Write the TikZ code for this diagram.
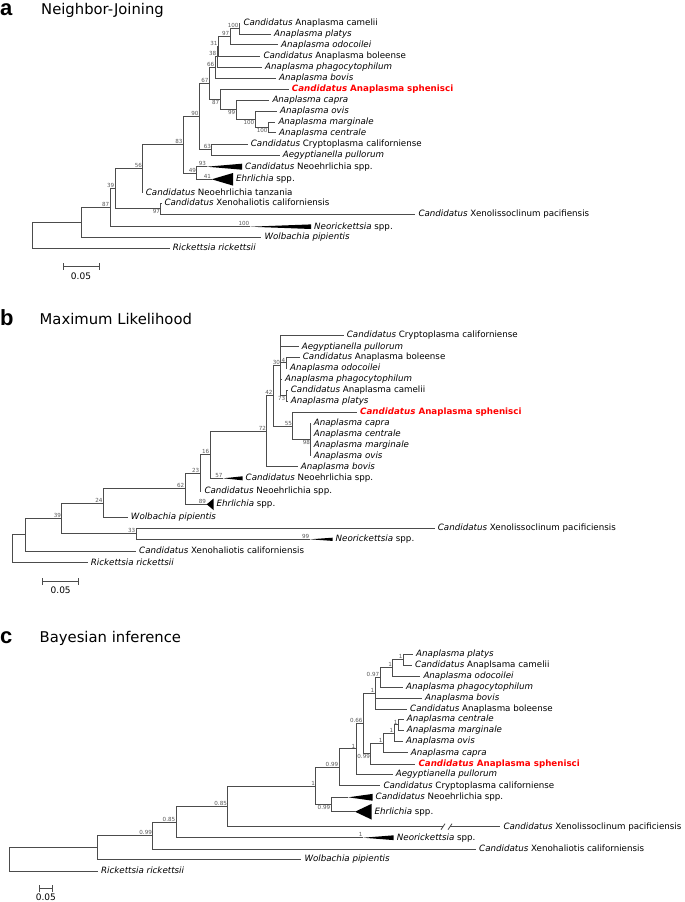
\documentclass[tikz,border=0pt]{standalone}
\usepackage{fontspec}
\setmainfont{DejaVu Sans}
\newfontfamily\letterfont{Liberation Sans}
\begin{document}
\begin{tikzpicture}[x=1pt, y=-1pt,
    br/.style={draw=black!70, line width=0.8pt},
    leaf/.style={anchor=west, inner xsep=3pt, inner ysep=0pt, text height=6.5pt, text depth=1.8pt, font=\fontsize{8.7}{10}\selectfont},
    hilite/.style={leaf, text=red, font=\fontsize{8.7}{10}\selectfont\bfseries},
    bs/.style={anchor=south east, inner sep=0.6pt, font=\fontsize{5.6}{6}\selectfont, text=black!65},
    bsb/.style={bs, anchor=north east},
    clade/.style={fill=black},
    plabel/.style={anchor=base west, inner sep=0pt, font=\letterfont\fontsize{22}{22}\selectfont\bfseries},
    ptitle/.style={anchor=base west, inner sep=0pt, font=\fontsize{14.8}{15}\selectfont},
    sbar/.style={draw=black!70, line width=0.8pt, |-|},
    sblab/.style={inner sep=0pt, font=\fontsize{9}{10}\selectfont}]
    \useasboundingbox (0,0) rectangle (685,902);

    % a: Neighbor-Joining
    \begin{scope}
        \node[plabel] (aLet) at (0,15.5) {a};
        \node[ptitle] (aTit) at (41,14.8) {Neighbor-Joining};

        \coordinate (aR) at (32.3,235.4);
        \coordinate (aN1) at (81.3,222.5);
        \coordinate (aN87) at (110,207.7);
        \coordinate (aN39) at (115,188.8);
        \coordinate (aN56) at (142.7,168.7);
        \coordinate (aNX97) at (160.7,208.8);
        \coordinate (aN83) at (183.3,144.7);
        \coordinate (aN49) at (196.7,173);
        \coordinate (aN90) at (199.3,116.5);
        \coordinate (aN63) at (211.7,149.5);
        \coordinate (aN67) at (209.3,83.4);
        \coordinate (aN66) at (215,67.5);
        \coordinate (aN87b) at (220,99.3);
        \coordinate (aN38) at (217,56.7);
        \coordinate (aN31) at (218.3,46.5);
        \coordinate (aN97) at (230,36.8);
        \coordinate (aN100) at (239.3,28.7);
        \coordinate (aN99) at (236,109.2);
        \coordinate (aN100b) at (255,119.2);
        \coordinate (aN100c) at (268.3,127.4);
        \coordinate (aNeoA) at (206.7,166.7);
        \coordinate (aEhrA) at (211.7,179.3);
        \coordinate (aNriA) at (250,226.7);

        \node[leaf] (aCam) at (240.3,23.3) {\textit{Candidatus} Anaplasma camelii};
        \node[leaf] (aPla) at (271,34) {\textit{Anaplasma platys}};
        \node[leaf] (aOdo) at (278,44.7) {\textit{Anaplasma odocoilei}};
        \node[leaf] (aBol) at (260.3,56) {\textit{Candidatus} Anaplasma boleense};
        \node[leaf] (aPha) at (262,67) {\textit{Anaplasma phagocytophilum}};
        \node[leaf] (aBov) at (276,78.3) {\textit{Anaplasma bovis}};
        \node[hilite] (aSph) at (288.7,89.3) {\textit{Candidatus} Anaplasma sphenisci};
        \node[leaf] (aCap) at (269.3,100) {\textit{Anaplasma capra}};
        \node[leaf] (aOvi) at (277,111) {\textit{Anaplasma ovis}};
        \node[leaf] (aMar) at (275.3,122) {\textit{Anaplasma marginale}};
        \node[leaf] (aCen) at (276,132.7) {\textit{Anaplasma centrale}};
        \node[leaf] (aCry) at (247.7,144) {\textit{Candidatus} Cryptoplasma californiense};
        \node[leaf] (aAeg) at (279.7,155) {\textit{Aegyptianella pullorum}};
        \node[leaf] (aNeo) at (242,166.7) {\textit{Candidatus} Neoehrlichia spp.};
        \node[leaf] (aEhr) at (233,179.3) {\textit{Ehrlichia} spp.};
        \node[leaf] (aTan) at (142.7,192.7) {\textit{Candidatus} Neoehrlichia tanzania};
        \node[leaf] (aXha) at (161.3,203.3) {\textit{Candidatus} Xenohaliotis californiensis};
        \node[leaf] (aXli) at (415.3,214.3) {\textit{Candidatus} Xenolissoclinum pacifiensis};
        \node[leaf] (aNri) at (311,226.7) {\textit{Neorickettsia} spp.};
        \node[leaf] (aWol) at (261.3,237.3) {\textit{Wolbachia pipientis}};
        \node[leaf] (aRic) at (169.7,248.3) {\textit{Rickettsia rickettsii}};

        \draw[br] (aR) |- (aN1) (aR) |- (aRic.west)
            (aN1) |- (aN87) (aN1) |- (aWol.west)
            (aN87) |- (aN39) (aN87) |- (aNriA)
            (aN39) |- (aN56) (aN39) |- (aNX97)
            (aNX97) |- (aXha.west) (aNX97) |- (aXli.west)
            (aN56) |- (aN83) (aN56) |- (aTan.west)
            (aN83) |- (aN90) (aN83) |- (aN49)
            (aN49) |- (aNeoA) (aN49) |- (aEhrA)
            (aN90) |- (aN67) (aN90) |- (aN63)
            (aN63) |- (aCry.west) (aN63) |- (aAeg.west)
            (aN67) |- (aN66) (aN67) |- (aN87b)
            (aN66) |- (aN38) (aN66) |- (aBov.west)
            (aN38) |- (aN31) (aN38) |- (aPha.west)
            (aN31) |- (aN97) (aN31) |- (aBol.west)
            (aN97) |- (aN100) (aN97) |- (aOdo.west)
            (aN100) |- (aCam.west) (aN100) |- (aPla.west)
            (aN87b) |- (aSph.west) (aN87b) |- (aN99)
            (aN99) |- (aCap.west) (aN99) |- (aN100b)
            (aN100b) |- (aOvi.west) (aN100b) |- (aN100c)
            (aN100c) |- (aMar.west) (aN100c) |- (aCen.west);
        \fill[clade] (aNeoA) -- ([yshift=3pt]aNeo.west) -- ([yshift=-3pt]aNeo.west) -- cycle;
        \fill[clade] (aEhrA) -- ([yshift=6.3pt]aEhr.west) -- ([yshift=-6.3pt]aEhr.west) -- cycle;
        \fill[clade] (aNriA) -- ([yshift=2.3pt]aNri.west) -- ([yshift=-2.3pt]aNri.west) -- cycle;

        \node[bs] (aB100) at (aN100) {100};
        \node[bs] (aB97) at (aN97) {97};
        \node[bs] (aB31) at (aN31) {31};
        \node[bs] (aB38) at (aN38) {38};
        \node[bs] (aB66) at (aN66) {66};
        \node[bs] (aB67) at (aN67) {67};
        \node[bsb] (aB87b) at (aN87b) {87};
        \node[bsb] (aB99) at (aN99) {99};
        \node[bsb] (aB100b) at (aN100b) {100};
        \node[bsb] (aB100c) at (aN100c) {100};
        \node[bs] (aB90) at (aN90) {90};
        \node[bs] (aB63) at (aN63) {63};
        \node[bs] (aB83) at (aN83) {83};
        \node[bs] (aB49) at (aN49) {49};
        \node[bs] (aB93) at (aNeoA) {93};
        \node[bs] (aB41) at (aEhrA) {41};
        \node[bs] (aB56) at (aN56) {56};
        \node[bs] (aB39) at (aN39) {39};
        \node[bsb] (aBX97) at (aNX97) {97};
        \node[bs] (aB87) at (aN87) {87};
        \node[bs] (aB100n) at (aNriA) {100};

        \coordinate (aS1) at (62.7,266.7);
        \coordinate (aS2) at (99.3,266.7);
        \draw[sbar] (aS1) -- (aS2);
        \node[sblab] (aSL) at (81,276) {0.05};
    \end{scope}

    % b: Maximum Likelihood
    \begin{scope}
        \node[plabel] (bLet) at (0,325) {b};
        \node[ptitle] (bTit) at (39.5,324) {Maximum Likelihood};

        \coordinate (bR) at (12.3,548.7);
        \coordinate (bN1) at (25.7,534.7);
        \coordinate (bN39) at (61.7,518.4);
        \coordinate (bN24) at (103.3,502.9);
        \coordinate (bN33) at (136,533.8);
        \coordinate (bN62) at (185,488.6);
        \coordinate (bN23) at (200,472.9);
        \coordinate (bN16) at (210,454.7);
        \coordinate (bN72) at (266.7,431.2);
        \coordinate (bN42) at (273.3,395.6);
        \coordinate (bN30) at (280.7,365.25);
        \coordinate (bN4) at (286,362.8);
        \coordinate (bN73) at (286,395.5);
        \coordinate (bN55) at (292.7,426);
        \coordinate (bN98) at (310.7,439.65);
        \coordinate (bNeoA) at (223.3,478.3);
        \coordinate (bEhrA) at (206.7,504.3);
        \coordinate (bNriA) at (310,539.3);

        \node[leaf] (bCry) at (343.7,335) {\textit{Candidatus} Cryptoplasma californiense};
        \node[leaf] (bAeg) at (298.7,346.7) {\textit{Aegyptianella pullorum}};
        \node[leaf] (bBol) at (299.7,357.3) {\textit{Candidatus} Anaplasma boleense};
        \node[leaf] (bOdo) at (287,368.3) {\textit{Anaplasma odocoilei}};
        \node[leaf] (bPha) at (282,379.3) {\textit{Anaplasma phagocytophilum}};
        \node[leaf] (bCam) at (287.7,390) {\textit{Candidatus} Anaplasma camelii};
        \node[leaf] (bPla) at (287.7,401) {\textit{Anaplasma platys}};
        \node[hilite] (bSph) at (357,412.3) {\textit{Candidatus} Anaplasma sphenisci};
        \node[leaf] (bCap) at (310.7,423.3) {\textit{Anaplasma capra}};
        \node[leaf] (bCen) at (310.7,434.3) {\textit{Anaplasma centrale}};
        \node[leaf] (bMar) at (310.7,445.3) {\textit{Anaplasma marginale}};
        \node[leaf] (bOvi) at (310.7,456) {\textit{Anaplasma ovis}};
        \node[leaf] (bBov) at (297.7,466.7) {\textit{Anaplasma bovis}};
        \node[leaf] (bNeo) at (242.5,478.3) {\textit{Candidatus} Neoehrlichia spp.};
        \node[leaf] (bNeo2) at (201.3,491) {\textit{Candidatus} Neoehrlichia spp.};
        \node[leaf] (bEhr) at (213.5,504.3) {\textit{Ehrlichia} spp.};
        \node[leaf] (bWol) at (127.7,517.3) {\textit{Wolbachia pipientis}};
        \node[leaf] (bXli) at (434.7,528.3) {\textit{Candidatus} Xenolissoclinum pacificiensis};
        \node[leaf] (bNri) at (332.5,539.3) {\textit{Neorickettsia} spp.};
        \node[leaf] (bXha) at (136,551) {\textit{Candidatus} Xenohaliotis californiensis};
        \node[leaf] (bRic) at (87.7,562.7) {\textit{Rickettsia rickettsii}};

        \draw[br] (bR) |- (bN1) (bR) |- (bRic.west)
            (bN1) |- (bN39) (bN1) |- (bXha.west)
            (bN39) |- (bN24) (bN39) |- (bN33)
            (bN33) |- (bXli.west) (bN33) |- (bNriA)
            (bN24) |- (bN62) (bN24) |- (bWol.west)
            (bN62) |- (bN23) (bN62) |- (bEhrA)
            (bN23) |- (bN16) (bN23) |- (bNeo2.west)
            (bN16) |- (bN72) (bN16) |- (bNeoA)
            (bN72) |- (bN42) (bN72) |- (bBov.west)
            (bN42) |- (bN30) (bN42) |- (bN55)
            (bN30) |- (bCry.west) (bN30) |- (bAeg.west)
            (bN30) |- (bN4) (bN30) |- (bPha.west) (bN30) |- (bN73)
            (bN4) |- (bBol.west) (bN4) |- (bOdo.west)
            (bN73) |- (bCam.west) (bN73) |- (bPla.west)
            (bN55) |- (bSph.west) (bN55) |- (bN98)
            (bN98) |- (bCap.west) (bN98) |- (bCen.west)
            (bN98) |- (bMar.west) (bN98) |- (bOvi.west);
        \fill[clade] (bNeoA) -- ([yshift=2pt]bNeo.west) -- ([yshift=-2pt]bNeo.west) -- cycle;
        \fill[clade] (bEhrA) -- ([yshift=5.7pt]bEhr.west) -- ([yshift=-5.7pt]bEhr.west) -- cycle;
        \fill[clade] (bNriA) -- ([yshift=1.6pt]bNri.west) -- ([yshift=-1.6pt]bNri.west) -- cycle;

        \node[bs] (bB30) at (bN30) {30};
        \node[bs] (bB4) at (bN4) {4};
        \node[bsb] (bB73) at (bN73) {73};
        \node[bs] (bB42) at (bN42) {42};
        \node[bs] (bB55) at (bN55) {55};
        \node[bsb] (bB98) at (bN98) {98};
        \node[bs] (bB72) at (bN72) {72};
        \node[bs] (bB16) at (bN16) {16};
        \node[bs] (bB57) at (bNeoA) {57};
        \node[bs] (bB23) at (bN23) {23};
        \node[bs] (bB62) at (bN62) {62};
        \node[bs] (bB89) at (bEhrA) {89};
        \node[bs] (bB24) at (bN24) {24};
        \node[bs] (bB39) at (bN39) {39};
        \node[bs] (bB33) at (bN33) {33};
        \node[bs] (bB99) at (bNriA) {99};

        \coordinate (bS1) at (42.3,581.7);
        \coordinate (bS2) at (79,581.7);
        \draw[sbar] (bS1) -- (bS2);
        \node[sblab] (bSL) at (60.7,590.5) {0.05};
    \end{scope}

    % c: Bayesian inference
    \begin{scope}
        \node[plabel] (cLet) at (0,643.3) {c};
        \node[ptitle] (cTit) at (39.5,642.7) {Bayesian inference};

        \coordinate (cR) at (9.3,859.2);
        \coordinate (cN0) at (97.3,847.4);
        \coordinate (cN099b) at (152.7,835.5);
        \coordinate (cN085a) at (176,822);
        \coordinate (cN085b) at (227.7,806.3);
        \coordinate (cN1a) at (315.7,785.9);
        \coordinate (cN099c) at (339,767.25);
        \coordinate (cN099d) at (331,804.5);
        \coordinate (cN1d) at (356,748.8);
        \coordinate (cN066) at (363.3,723.3);
        \coordinate (cN1c) at (375,693.2);
        \coordinate (cNs) at (370.7,753.45);
        \coordinate (cN097) at (380,677.4);
        \coordinate (cNpo) at (392.7,667.75);
        \coordinate (cNpc) at (403.3,659.5);
        \coordinate (cNcmoc) at (383.3,742.9);
        \coordinate (cNcmo) at (394,733.05);
        \coordinate (cNcm) at (398.3,724.8);
        \coordinate (cNeoA) at (348.3,797.3);
        \coordinate (cEhrA) at (355,811.7);
        \coordinate (cNriA) at (363.3,837.7);
        \coordinate (cXb1) at (443,826.7);
        \coordinate (cXb2) at (450,826.7);

        \node[leaf] (cPla) at (413,654) {\textit{Anaplasma platys}};
        \node[leaf] (cCam) at (412,665) {\textit{Candidatus} Anaplsama camelii};
        \node[leaf] (cOdo) at (420.3,676) {\textit{Anaplasma odocoilei}};
        \node[leaf] (cPha) at (403,687) {\textit{Anaplasma phagocytophilum}};
        \node[leaf] (cBov) at (422,698) {\textit{Anaplasma bovis}};
        \node[leaf] (cBol) at (407,709) {\textit{Candidatus} Anaplasma boleense};
        \node[leaf] (cCen) at (403.7,719.3) {\textit{Anaplasma centrale}};
        \node[leaf] (cMar) at (403.7,730.3) {\textit{Anaplasma marginale}};
        \node[leaf] (cOvi) at (403,741.3) {\textit{Anaplasma ovis}};
        \node[leaf] (cCap) at (407.7,752.7) {\textit{Anaplasma capra}};
        \node[hilite] (cSph) at (415.3,764) {\textit{Candidatus} Anaplasma sphenisci};
        \node[leaf] (cAeg) at (392.7,774.3) {\textit{Aegyptianella pullorum}};
        \node[leaf] (cCry) at (380.3,785.7) {\textit{Candidatus} Cryptoplasma californiense};
        \node[leaf] (cNeo) at (372.5,797.3) {\textit{Candidatus} Neoehrlichia spp.};
        \node[leaf] (cEhr) at (371.5,811.7) {\textit{Ehrlichia} spp.};
        \node[leaf] (cXli) at (500.3,826.7) {\textit{Candidatus} Xenolissoclinum pacificiensis};
        \node[leaf] (cNri) at (393.7,837.7) {\textit{Neorickettsia} spp.};
        \node[leaf] (cXha) at (476,849) {\textit{Candidatus} Xenohaliotis californiensis};
        \node[leaf] (cWol) at (301.3,859.3) {\textit{Wolbachia pipientis}};
        \node[leaf] (cRic) at (98,871) {\textit{Rickettsia rickettsii}};

        \draw[br] (cR) |- (cN0) (cR) |- (cRic.west)
            (cN0) |- (cN099b) (cN0) |- (cWol.west)
            (cN099b) |- (cN085a) (cN099b) |- (cXha.west)
            (cN085a) |- (cN085b) (cN085a) |- (cNriA)
            (cN085b) |- (cN1a) (cN085b) |- (cXb1)
            (cXb2) -- (cXli.west)
            (cN1a) |- (cN099c) (cN1a) |- (cN099d)
            (cN099d) |- (cNeoA) (cN099d) |- (cEhrA)
            (cN099c) |- (cN1d) (cN099c) |- (cCry.west)
            (cN1d) |- (cN066) (cN1d) |- (cAeg.west)
            (cN066) |- (cN1c) (cN066) |- (cNs)
            (cN1c) |- (cN097) (cN1c) |- (cBov.west) (cN1c) |- (cBol.west)
            (cN097) |- (cNpo) (cN097) |- (cPha.west)
            (cNpo) |- (cNpc) (cNpo) |- (cOdo.west)
            (cNpc) |- (cPla.west) (cNpc) |- (cCam.west)
            (cNs) |- (cNcmoc) (cNs) |- (cSph.west)
            (cNcmoc) |- (cNcmo) (cNcmoc) |- (cCap.west)
            (cNcmo) |- (cNcm) (cNcmo) |- (cOvi.west)
            (cNcm) |- (cCen.west) (cNcm) |- (cMar.west);
        % break marks on the long branch
        \draw[br] ([shift={(-2,3)}]cXb1) -- ([shift={(2,-3)}]cXb1)
            ([shift={(-2,3)}]cXb2) -- ([shift={(2,-3)}]cXb2);
        \fill[clade] (cNeoA) -- ([yshift=3.4pt]cNeo.west) -- ([yshift=-3.4pt]cNeo.west) -- cycle;
        \fill[clade] (cEhrA) -- ([yshift=7.8pt]cEhr.west) -- ([yshift=-7.8pt]cEhr.west) -- cycle;
        \fill[clade] (cNriA) -- ([yshift=2.4pt]cNri.west) -- ([yshift=-2.4pt]cNri.west) -- cycle;

        \node[bs] (cBpc) at (cNpc) {1};
        \node[bs] (cBpo) at (cNpo) {1};
        \node[bs] (cB097) at (cN097) {0.97};
        \node[bs] (cB1c) at (cN1c) {1};
        \node[bs] (cBcm) at (cNcm) {1};
        \node[bs] (cBcmo) at (cNcmo) {1};
        \node[bs] (cBcmoc) at (cNcmoc) {1};
        \node[bs] (cB066) at (cN066) {0.66};
        \node[bsb] (cBs) at (cNs) {0.99};
        \node[bs] (cB1d) at (cN1d) {1};
        \node[bs] (cB099c) at (cN099c) {0.99};
        \node[bsb] (cB099d) at (cN099d) {0.99};
        \node[bs] (cB1a) at (cN1a) {1};
        \node[bs] (cB085b) at (cN085b) {0.85};
        \node[bs] (cB085a) at (cN085a) {0.85};
        \node[bs] (cB099b) at (cN099b) {0.99};
        \node[bs] (cBnri) at (cNriA) {1};

        \coordinate (cS1) at (39.3,888.3);
        \coordinate (cS2) at (52.3,888.3);
        \draw[sbar] (cS1) -- (cS2);
        \node[sblab] (cSL) at (45.8,897) {0.05};
    \end{scope}
\end{tikzpicture}
\end{document}
